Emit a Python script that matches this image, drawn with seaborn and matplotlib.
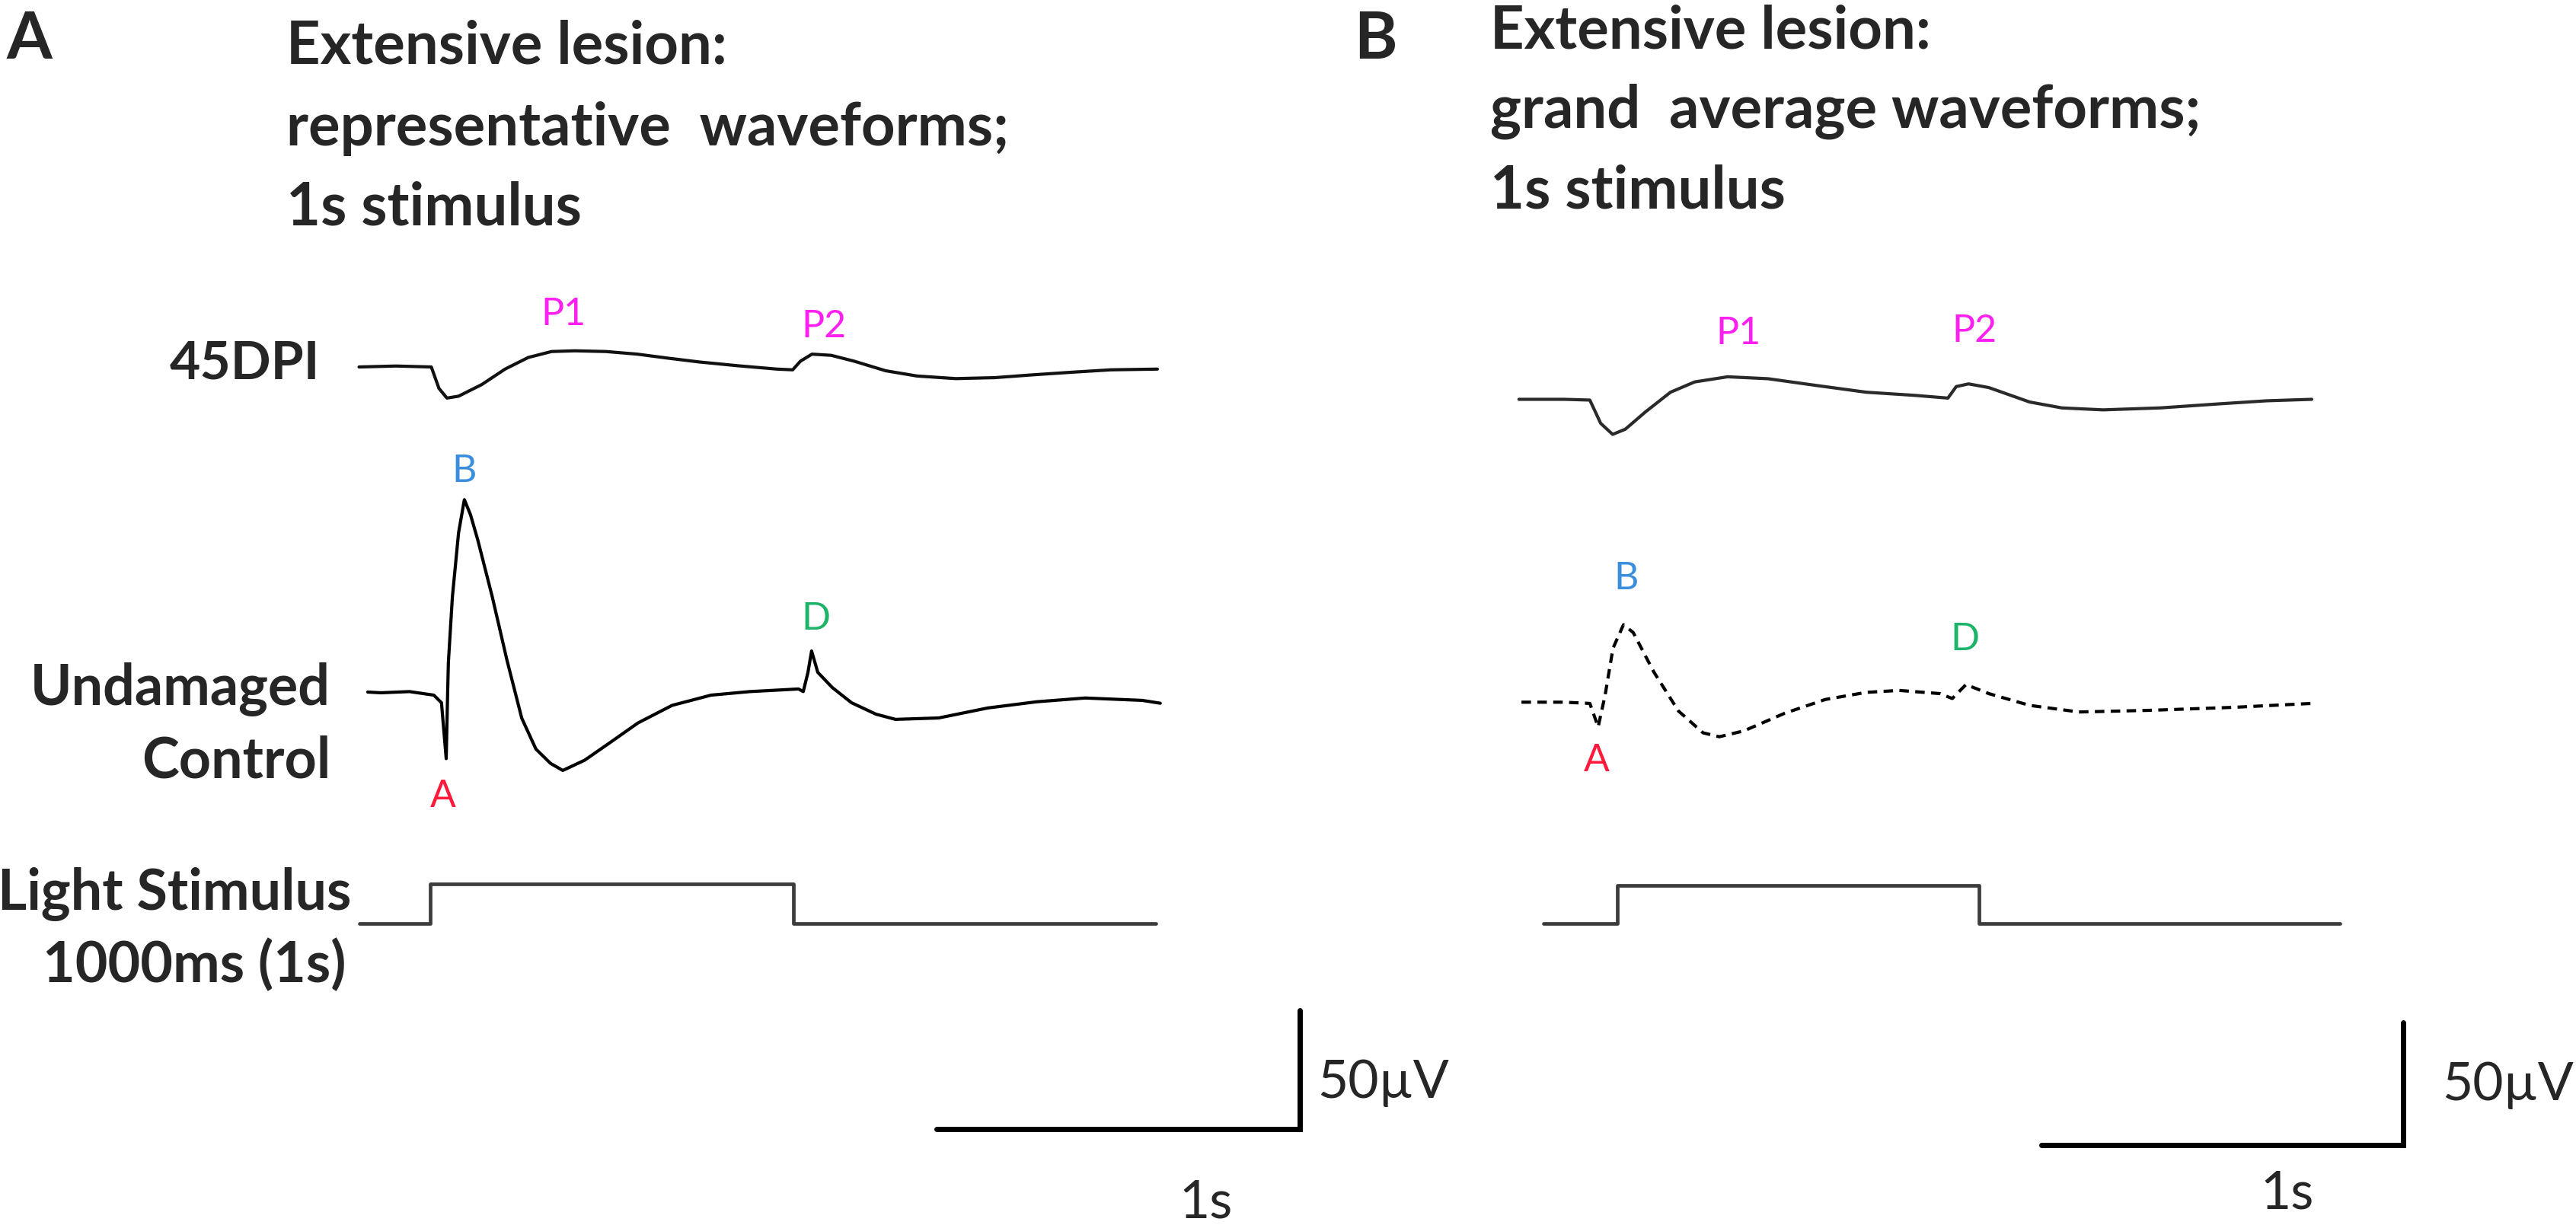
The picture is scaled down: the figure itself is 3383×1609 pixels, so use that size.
import numpy as np
import matplotlib
matplotlib.use("Agg")
import matplotlib.pyplot as plt
import seaborn as sns

W, H = 3383, 1609

# ---- panel A: representative waveforms (ms from stimulus onset, uV) ----
a_dpi_t = [-196, -94, 3, 24, 46, 78, 142, 206, 270, 334, 398, 484, 570, 655,
           741, 848, 955, 998, 1019, 1051, 1104, 1168, 1254, 1340, 1447, 1554,
           1660, 1768, 1874, 2002]
a_dpi_v = [0.0, 0.4, 0.0, -9.0, -13.1, -12.3, -7.4, -0.9, 4.0, 6.5, 6.8, 6.5,
           5.4, 3.7, 2.1, 0.5, -0.9, -1.2, 2.4, 5.4, 4.9, 2.4, -1.6, -3.8,
           -4.9, -4.5, -3.3, -2.2, -1.2, -0.9]

a_ctl_t = [-172, -136, -57, 10, 31, 44, 48, 50, 61, 78, 94, 111, 131, 171,
           211, 252, 291, 331, 365, 425, 492, 572, 666, 773, 880, 1014, 1027,
           1040, 1050, 1067, 1107, 1160, 1227, 1281, 1400, 1535, 1669, 1803,
           1960, 2010]
a_ctl_v = [0.0, -0.3, 0.2, -1.3, -4.5, -28.0, 0.0, 12.5, 40.0, 67.0, 81.0,
           74.6, 64.0, 40.0, 13.6, -11.0, -24.0, -30.0, -33.0, -28.7, -21.6,
           -13.0, -5.6, -1.3, 0.2, 1.3, 0.2, 8.3, 17.3, 8.3, 1.9, -4.5, -9.3,
           -11.5, -10.9, -6.7, -4.1, -2.5, -3.5, -4.7]

a_stim_t = [-195, 0, 1000, 1998]
a_stim_v = [0, 1, 0, 0]

# ---- panel B: grand average waveforms ----
b_dpi_t = [-272, -147, -76, -46, -13, 22, 78, 147, 214, 305, 417, 553, 688,
           824, 914, 937, 971, 1027, 1140, 1229, 1343, 1501, 1659, 1795, 1920]
b_dpi_v = [0.0, 0.0, -0.3, -9.8, -14.3, -12.2, -5.1, 2.9, 7.1, 9.2, 8.4, 5.6,
           2.9, 1.6, 0.5, 5.2, 6.3, 4.8, -1.1, -3.5, -4.3, -3.5, -1.9, -0.6,
           0.0]

b_ctl_t = [-265, -147, -76, -53, -34, -12, 17, 44, 101, 169, 237, 282, 350,
           463, 575, 688, 779, 892, 926, 964, 1027, 1140, 1276, 1477, 1703,
           1920]
b_ctl_v = [0.0, 0.0, -0.5, -10.1, 2.7, 22.0, 31.6, 28.4, 12.3, -3.6, -12.5,
           -14.1, -11.7, -4.5, 1.1, 4.0, 4.8, 3.5, 1.5, 7.2, 3.5, -1.3, -4.0,
           -3.3, -2.1, -0.5]

b_stim_t = [-204, 0, 1000, 1998]
b_stim_v = [0, 1, 0, 0]

# scale bars: 1 s and 50 uV
bar_t = [0, 1000, 1000]
bar_v = [0, 0, 50]

# component labels: text, colour, trace, feature time, offset (px)
MAGENTA, RED, BLUE, GREEN = "#ff1ff0", "#ff1a3c", "#3a8ede", "#1db46a"
labels_a = [("P1", MAGENTA, "dpi", 398, (-15, -48)),
            ("P2", MAGENTA, "dpi", 1051, (16, -36)),
            ("B", BLUE, "ctl", 94, (0, -37)),
            ("A", RED, "ctl", 44, (-4, 50)),
            ("D", GREEN, "ctl", 1050, (6, -42))]
labels_b = [("P1", MAGENTA, "dpi", 305, (14, -57)),
            ("P2", MAGENTA, "dpi", 971, (8, -69)),
            ("B", BLUE, "ctl", 17, (3, -61)),
            ("A", RED, "ctl", -53, (-2, 44)),
            ("D", GREEN, "ctl", 964, (-2, -59))]

sns.set_theme(style="white")
plt.rcParams['font.family'] = ['Lato', 'DejaVu Sans']

fig = plt.figure(figsize=(W / 100, H / 100), dpi=100)
PT = 0.72  # points per pixel at 100 dpi


def row_axes(onset_px, px_per_ms, base_px, px_per_unit, lo, hi, t0=-400, t1=2200):
    left = onset_px + t0 * px_per_ms
    width = (t1 - t0) * px_per_ms
    top = base_px - hi * px_per_unit
    height = (hi - lo) * px_per_unit
    ax = fig.add_axes([left / W, 1 - (top + height) / H, width / W, height / H])
    ax.set_xlim(t0, t1)
    ax.set_ylim(lo, hi)
    ax.axis('off')
    return ax


def draw_panel(p):
    k = p['k']
    ax_dpi = row_axes(p['onset'], p['ppm'], p['dpi_base'], k, -30, 30)
    sns.lineplot(x=p['dpi'][0], y=p['dpi'][1], ax=ax_dpi, estimator=None,
                 sort=False, color=p['dpi_color'], linewidth=p['dpi_lw'])

    ax_ctl = row_axes(p['onset'], p['ppm'], p['ctl_base'], k, -50, 100)
    sns.lineplot(x=p['ctl'][0], y=p['ctl'][1], ax=ax_ctl, estimator=None,
                 sort=False, color="black", linewidth=p['ctl_lw'],
                 linestyle=p['ctl_ls'])

    ax_st = row_axes(p['onset'], p['ppm'], p['stim_base'], p['stim_h'], -0.5, 1.5)
    sns.lineplot(x=p['stim'][0], y=p['stim'][1], ax=ax_st, estimator=None,
                 sort=False, color="#3c3c3c", linewidth=3.4,
                 drawstyle="steps-post")

    ax_bar = row_axes(p['bar_x'] - 1000 * p['ppm'], p['ppm'], p['bar_y'],
                      p['bar_k'], -20, 60, t0=-100, t1=1100)
    sns.lineplot(x=bar_t, y=bar_v, ax=ax_bar, estimator=None, sort=False,
                 color="black", linewidth=5)
    ax_bar.lines[-1].set_solid_joinstyle('miter')

    traces = {"dpi": (ax_dpi, p['dpi']), "ctl": (ax_ctl, p['ctl'])}
    for text, col, which, tf, (dx, dy) in p['labels']:
        ax, (tt, vv) = traces[which]
        yv = np.interp(tf, tt, vv)
        ax.annotate(text, xy=(tf, yv), xytext=(dx * PT, -dy * PT),
                    textcoords='offset points', ha='center', va='center',
                    color=col, fontsize=36, annotation_clip=False)


panel_a = dict(onset=565, ppm=0.477, k=3.12, dpi_base=482, ctl_base=909,
               stim_base=1213, stim_h=52, bar_x=1707, bar_y=1483, bar_k=3.12,
               dpi=(a_dpi_t, a_dpi_v), ctl=(a_ctl_t, a_ctl_v),
               stim=(a_stim_t, a_stim_v), dpi_color="#111111", dpi_lw=3.0,
               ctl_lw=3.0, ctl_ls="-", labels=labels_a)
panel_b = dict(onset=2124, ppm=0.475, k=3.22, dpi_base=524.5, ctl_base=922.3,
               stim_base=1213, stim_h=50, bar_x=3156, bar_y=1504, bar_k=3.22,
               dpi=(b_dpi_t, b_dpi_v), ctl=(b_ctl_t, b_ctl_v),
               stim=(b_stim_t, b_stim_v), dpi_color="#2a2a2a", dpi_lw=3.0,
               ctl_lw=3.0, ctl_ls=(0, (3.0, 2.0)), labels=labels_b)

draw_panel(panel_a)
draw_panel(panel_b)


def ftext(x, y, s, **kw):
    fig.text(x / W, 1 - y / H, s, va='baseline', **kw)


# panel letters and titles
ftext(8, 77, "A", fontsize=62, fontweight='bold')
ftext(1778, 77, "B", fontsize=62, fontweight='bold')
title_a = ["Extensive lesion:", "representative  waveforms;", "1s stimulus"]
title_b = ["Extensive lesion:", "grand  average waveforms;", "1s stimulus"]
for line, y in zip(title_a, [84, 191, 296]):
    ftext(376, y, line, fontsize=56, fontweight='bold')
for line, y in zip(title_b, [64, 168, 273]):
    ftext(1957, y, line, fontsize=56, fontweight='bold')

# row labels (panel A)
ftext(420, 497, "45DPI", fontsize=50, fontweight='bold', ha='right')
ftext(434, 926, "Undamaged", fontsize=53, fontweight='bold', ha='right')
ftext(434, 1022, "Control", fontsize=53, fontweight='bold', ha='right')
ftext(461, 1195, "Light Stimulus", fontsize=53, fontweight='bold', ha='right')
ftext(455, 1290, "1000ms (1s)", fontsize=53, fontweight='bold', ha='right')

# scale bar labels
ftext(1730, 1442, "50\u00b5V", fontsize=50, color="#262626")
ftext(3207, 1445, "50\u00b5V", fontsize=50, color="#262626")
ftext(1584, 1600, "1s", fontsize=50, color="#262626", ha='center')
ftext(3004, 1587, "1s", fontsize=50, color="#262626", ha='center')

fig.savefig("out.png", dpi=100, facecolor="white")
